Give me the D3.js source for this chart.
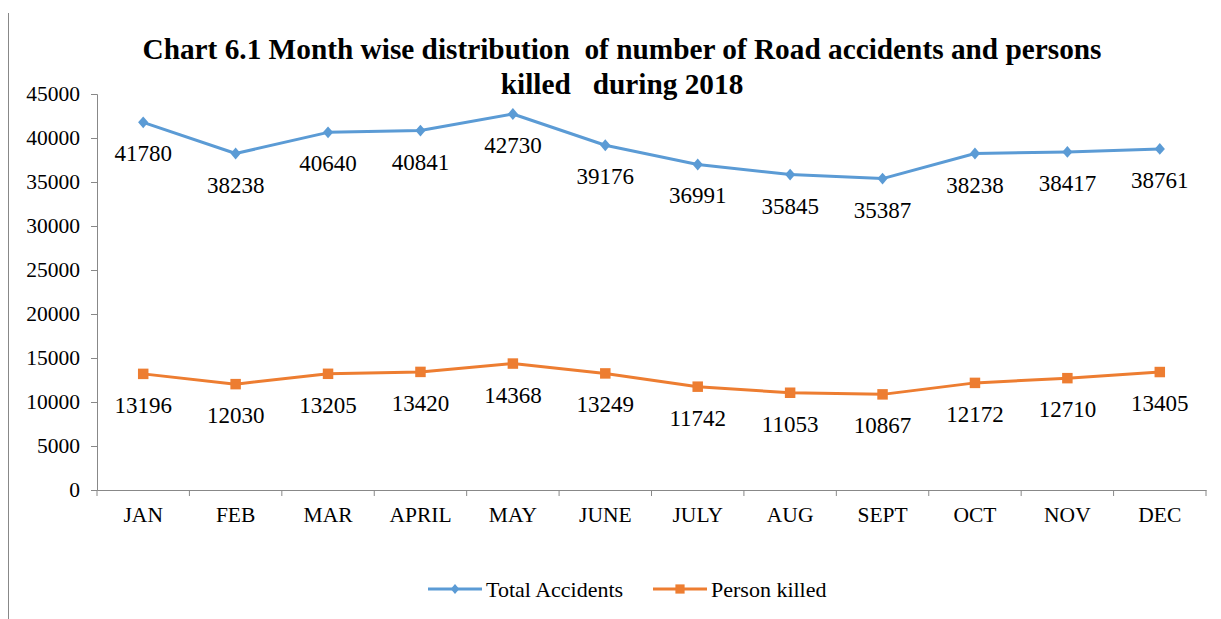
<!DOCTYPE html>
<meta charset="utf-8">
<title>Chart 6.1</title>
<style>
  body { margin: 0; background: #fff; }
  svg text { font-family: "Liberation Serif", "Times New Roman", serif; fill: #000; }
</style>
<body>
<script src="https://d3js.org/d3.v7.min.js"></script>
<script>
const months = ["JAN","FEB","MAR","APRIL","MAY","JUNE","JULY","AUG","SEPT","OCT","NOV","DEC"];
const totalAccidents = [41780,38238,40640,40841,42730,39176,36991,35845,35387,38238,38417,38761];
const personKilled = [13196,12030,13205,13420,14368,13249,11742,11053,10867,12172,12710,13405];
const yTicks = [0,5000,10000,15000,20000,25000,30000,35000,40000,45000];

const width = 1221, height = 619;
const serif = "'Liberation Serif', 'Times New Roman', serif";
const svg = d3.select("body").append("svg")
    .attr("width", width).attr("height", height);

// frame line on the left
svg.append("line")
    .attr("x1", 8.5).attr("x2", 8.5).attr("y1", 13).attr("y2", height)
    .attr("stroke", "#888").attr("stroke-width", 1);

const x = d3.scaleBand().domain(months).range([97, 1206]);
const y = d3.scaleLinear().domain([0, 45000]).range([490, 94]);

// title
[["Chart 6.1 Month wise distribution  of number of Road accidents and persons", 59],
 ["killed   during 2018", 94]].forEach(([t, ty]) => {
  svg.append("text")
      .attr("x", 622).attr("y", ty)
      .attr("text-anchor", "middle")
      .attr("font-family", serif)
      .style("font-size", "29.3px").style("font-weight", "bold")
      .style("white-space", "pre")
      .text(t);
});

// y axis
const yAxis = svg.append("g")
    .attr("transform", "translate(97,0)")
    .call(d3.axisLeft(y).tickValues(yTicks).tickFormat(d3.format("d")).tickSize(6).tickPadding(11));

// x axis
const xAxis = svg.append("g")
    .attr("transform", "translate(0,490)")
    .call(d3.axisBottom(x).tickSize(0).tickPadding(17));
xAxis.selectAll(".sep")
    .data(d3.range(months.length + 1))
    .join("line")
    .attr("class", "sep")
    .attr("x1", i => 97 + i * x.step())
    .attr("x2", i => 97 + i * x.step())
    .attr("y1", 0).attr("y2", 6)
    .attr("stroke", "#888");

[yAxis, xAxis].forEach(a => {
  a.attr("font-family", null).attr("font-size", null);
  a.selectAll("text")
      .attr("font-family", serif)
      .style("font-family", serif)
      .style("font-size", "21.5px")
      .attr("fill", "#000");
  a.selectAll(".domain, .tick line").attr("stroke", "#888");
});

const cx = m => x(m) + x.bandwidth() / 2;

const series = [
  { name: "Total Accidents", values: totalAccidents, color: "#5B9BD5", marker: "diamond" },
  { name: "Person killed", values: personKilled, color: "#ED7D31", marker: "square" }
];

const line = d3.line().x((d, i) => cx(months[i])).y(d => y(d));

// diamond = square turned 45 degrees, slightly taller than wide
const markerPath = (kind, big) => kind === "diamond"
    ? d3.symbol().type(d3.symbolSquare).size(big ? 58 : 40)()
    : d3.symbol().type(d3.symbolSquare).size(big ? 110 : 85)();
const markerTf = kind => kind === "diamond" ? " scale(0.95,1.1) rotate(45)" : "";

series.forEach(s => {
  svg.append("path")
      .datum(s.values)
      .attr("fill", "none")
      .attr("stroke", s.color)
      .attr("stroke-width", 3)
      .attr("stroke-linejoin", "round")
      .attr("d", line);

  svg.selectAll(null)
      .data(s.values)
      .join("path")
      .attr("d", markerPath(s.marker, true))
      .attr("transform", (d, i) => `translate(${cx(months[i])},${y(d)})` + markerTf(s.marker))
      .attr("fill", s.color);

  svg.selectAll(null)
      .data(s.values)
      .join("text")
      .attr("x", (d, i) => cx(months[i]))
      .attr("y", d => y(d) + 39)
      .attr("text-anchor", "middle")
      .style("font-size", "23px")
      .text(d => d);
});

// legend
const legend = [
  { s: series[0], x: 428 },
  { s: series[1], x: 653 }
];
legend.forEach(l => {
  const g = svg.append("g").attr("transform", `translate(${l.x},589)`);
  g.append("line").attr("x1", 0).attr("x2", 54).attr("stroke", l.s.color).attr("stroke-width", 3);
  g.append("path")
      .attr("d", markerPath(l.s.marker, false))
      .attr("transform", "translate(27,0)" + markerTf(l.s.marker))
      .attr("fill", l.s.color);
  g.append("text").attr("x", 58).attr("y", 7.5).style("font-size", "22px").text(l.s.name);
});
</script>
</body>
